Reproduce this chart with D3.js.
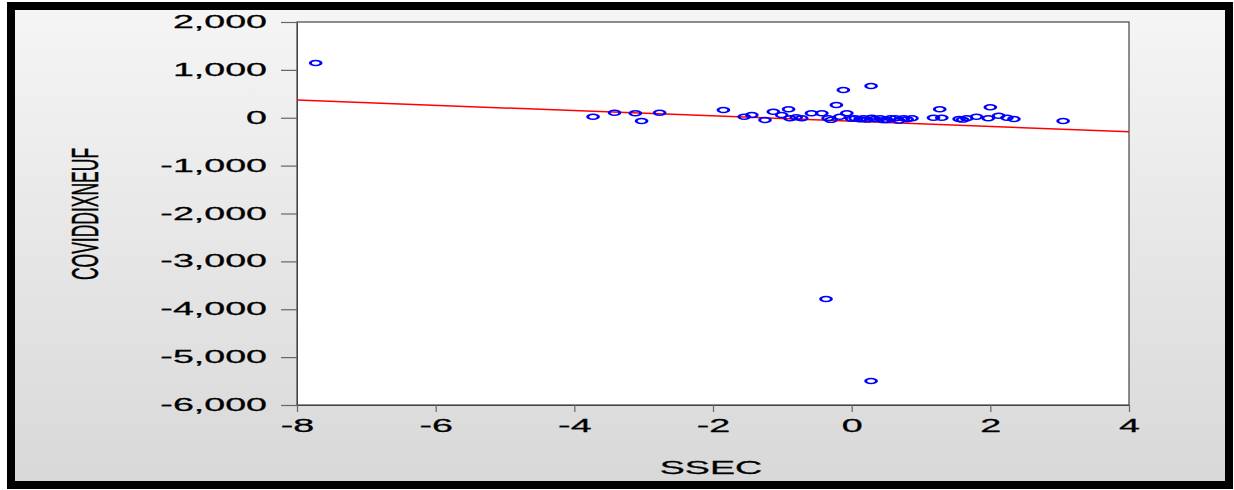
<!DOCTYPE html>
<html>
<head>
<meta charset="utf-8">
<script src="https://cdn.jsdelivr.net/npm/d3@7"></script>
<style>
  body { margin: 0; background: #fff; }
  svg { display: block; font-family: Arial, "Liberation Sans", sans-serif; }
</style>
</head>
<body>
<div id="chart"></div>
<script>
// SSEC returns (x) against COVIDDIXNEUF (y)
const ssec = [-7.73, -3.73, -3.42, -3.12, -3.03, -2.77, -1.85, -1.55, -1.44, -1.25,
  -1.13, -1.01, -0.91, -0.89, -0.80, -0.72, -0.58, -0.43, -0.37, -0.34,
  -0.30, -0.22, -0.17, -0.12, -0.07, 0.00, 0.05, 0.12, 0.17, 0.22,
  0.28, 0.28, 0.29, 0.33, 0.41, 0.46, 0.51, 0.56, 0.63, 0.68,
  0.75, 0.80, 0.87, 1.18, 1.27, 1.30, 1.55, 1.60, 1.66, 1.80,
  1.97, 2.00, 2.12, 2.24, 2.34, 3.05];
const covid = [1144, 22, 105, 93, -68, 105, 162, 22, 57, -47,
  126, 57, 176, -12, 10, -12, 93, 93, -3786, -12,
  -45, 266, 22, 580, 93, -20, -12, -30, -12, -40,
  663, -5499, 1, -25, -12, -50, -47, -10, -12, -60,
  -12, -30, -12, 1, 176, 1, -26, -40, -12, 22,
  -12, 218, 43, 1, -26, -68];

// fitted line covid = a + b * ssec
const fitIntercept = -72;
const fitSlope = -55.2;

const xTicks = [-8, -6, -4, -2, 0, 2, 4];
const xTickLabels = ["-8", "-6", "-4", "-2", "0", "2", "4"];
const yTicks = [2000, 1000, 0, -1000, -2000, -3000, -4000, -5000, -6000];
const yTickLabels = ["2,000", "1,000", "0", "-1,000", "-2,000", "-3,000", "-4,000", "-5,000", "-6,000"];

const W = 1234, H = 490;
const sx = 2.15; // the source image is stretched sideways
const plot = { left: 297, right: 1129, top: 22, bottom: 405 };

const svg = d3.select("#chart").append("svg")
  .attr("width", W).attr("height", H);

const grad = svg.append("defs").append("linearGradient")
  .attr("id", "bg").attr("x1", 0).attr("y1", 0).attr("x2", 0).attr("y2", 1);
grad.append("stop").attr("offset", "0%").attr("stop-color", "#f5f5f5");
grad.append("stop").attr("offset", "100%").attr("stop-color", "#d8d8d8");

svg.append("rect")
  .attr("x", 11).attr("y", 6).attr("width", 1218).attr("height", 479)
  .attr("fill", "url(#bg)")
  .attr("stroke", "#000").attr("stroke-width", 8);

const x = d3.scaleLinear().domain([-8, 4]).range([plot.left, plot.right]);
const y = d3.scaleLinear().domain([-6000, 2000]).range([plot.bottom, plot.top]);

svg.append("rect")
  .attr("x", plot.left).attr("y", plot.top)
  .attr("width", plot.right - plot.left).attr("height", plot.bottom - plot.top)
  .attr("fill", "#fff")
  .attr("stroke", "#444").attr("stroke-width", 1.2);

function styleLabels(sel) {
  sel.attr("font-size", 17.5)
    .attr("fill", "#000")
    .attr("stroke", "#000").attr("stroke-width", 0.25)
    .attr("font-family", "Arial, 'Liberation Sans', sans-serif");
}

// y axis
const gy = svg.append("g")
  .attr("transform", `translate(${plot.left},0)`)
  .call(d3.axisLeft(y).tickValues(yTicks).tickSize(16).tickPadding(0)
    .tickFormat((d, i) => yTickLabels[i]));
gy.select(".domain").attr("stroke", "#444");
gy.selectAll(".tick line").attr("stroke", "#666").attr("stroke-width", 1.2);
gy.selectAll(".tick text")
  .attr("x", -30 / sx)
  .attr("transform", `scale(${sx},1)`)
  .call(styleLabels);

// x axis
const gx = svg.append("g")
  .attr("transform", `translate(0,${plot.bottom})`)
  .call(d3.axisBottom(x).tickValues(xTicks).tickSize(7).tickPadding(8)
    .tickFormat((d, i) => xTickLabels[i]));
gx.select(".domain").attr("stroke", "#444");
gx.selectAll(".tick line").attr("stroke", "#666").attr("stroke-width", 1.2);
gx.selectAll(".tick text")
  .attr("transform", `scale(${sx},1)`)
  .call(styleLabels);

// fitted line
svg.append("line")
  .attr("x1", x(-8)).attr("y1", y(fitIntercept + fitSlope * -8))
  .attr("x2", x(4)).attr("y2", y(fitIntercept + fitSlope * 4))
  .attr("stroke", "#ff0000").attr("stroke-width", 1.5);

// points
svg.append("g")
  .selectAll("circle")
  .data(d3.range(ssec.length))
  .join("circle")
    .attr("r", 2.5)
    .attr("transform", i => `translate(${x(ssec[i])},${y(covid[i])}) scale(${sx},1)`)
    .attr("fill", "none")
    .attr("stroke", "#0000ff")
    .attr("stroke-width", 1.4);

// axis titles
svg.append("text")
  .attr("transform", `translate(711,474) scale(${sx},1)`)
  .attr("text-anchor", "middle")
  .text("SSEC")
  .call(styleLabels);

svg.append("text")
  .attr("transform", `translate(98,214) scale(${sx},1) rotate(-90)`)
  .attr("text-anchor", "middle")
  .text("COVIDDIXNEUF")
  .call(styleLabels);
</script>
</body>
</html>
